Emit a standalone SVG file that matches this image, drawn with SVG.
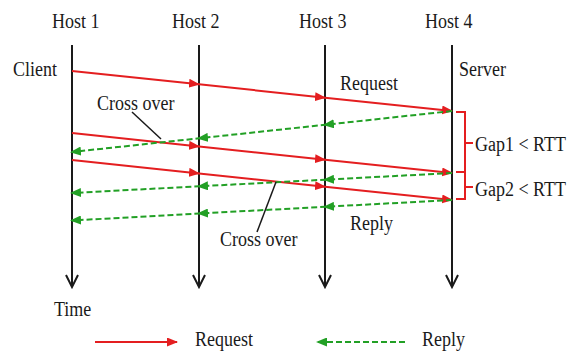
<svg xmlns="http://www.w3.org/2000/svg" width="577" height="361" viewBox="0 0 577 361">
<style>
.t{font-family:"Liberation Serif","Times New Roman",serif;font-size:18px;fill:#1a1a1a}
.life{stroke:#1a1a1a;stroke-width:2;fill:none}
.req{stroke:#e41e20;stroke-width:2;fill:none}
.rep{stroke:#22a025;stroke-width:2;fill:none;stroke-dasharray:6 3}
.lead{stroke:#1a1a1a;stroke-width:1.5;fill:none}
.brace{stroke:#e41e20;stroke-width:2;fill:none}
</style>
<defs>
<marker id="ar" markerUnits="userSpaceOnUse" markerWidth="11" markerHeight="9" refX="10" refY="4.5" orient="auto" viewBox="0 0 11 9">
<path d="M0,0 L11,4.5 L0,9 z" fill="#e41e20"/>
</marker>
<marker id="ag" markerUnits="userSpaceOnUse" markerWidth="11" markerHeight="9" refX="9" refY="4.5" orient="auto" viewBox="0 0 11 9">
<path d="M0,0 L11,4.5 L0,9 z" fill="#22a025"/>
</marker>
</defs>
<rect width="577" height="361" fill="#fff"/>

<g id="host1">
<text class="t" transform="translate(52 28) scale(1 1.2)">Host 1</text>
<path class="life" d="M72,45 V287 M66,275 L72,287 L78,275"/>
</g>
<g id="host2">
<text class="t" transform="translate(172 28) scale(1 1.2)">Host 2</text>
<path class="life" d="M199,45 V287 M193,275 L199,287 L205,275"/>
</g>
<g id="host3">
<text class="t" transform="translate(299 28) scale(1 1.2)">Host 3</text>
<path class="life" d="M325,45 V287 M319,275 L325,287 L331,275"/>
</g>
<g id="host4">
<text class="t" transform="translate(425 28) scale(1 1.2)">Host 4</text>
<path class="life" d="M452,45 V287 M446,275 L452,287 L458,275"/>
</g>

<g id="labels">
<text class="t" transform="translate(13 76) scale(1 1.2)">Client</text>
<text class="t" transform="translate(459 76) scale(1 1.2)">Server</text>
<text class="t" transform="translate(340 90) scale(1 1.2)">Request</text>
<text class="t" transform="translate(350 230) scale(1 1.2)">Reply</text>
<text class="t" transform="translate(97 110) scale(1 1.2)">Cross over</text>
<text class="t" transform="translate(220 246) scale(1 1.2)">Cross over</text>
<text class="t" transform="translate(54 316) scale(1 1.2)">Time</text>
<text class="t" transform="translate(475 151) scale(1 1.2)">Gap1 &lt; RTT</text>
<text class="t" transform="translate(475 196) scale(1 1.2)">Gap2 &lt; RTT</text>
</g>

<g id="connectors">
<path class="req" marker-mid="url(#ar)" marker-end="url(#ar)" d="M72,71 L199,84.3 L325,97.7 L452,111"/>
<path class="req" marker-mid="url(#ar)" marker-end="url(#ar)" d="M72,133 L199,146.4 L325,159.7 L452,173"/>
<path class="req" marker-mid="url(#ar)" marker-end="url(#ar)" d="M72,160 L199,173.4 L325,186.7 L452,200"/>
<path class="rep" marker-mid="url(#ag)" marker-end="url(#ag)" d="M452,111 L325,124.8 L199,138.3 L72,152"/>
<path class="rep" marker-mid="url(#ag)" marker-end="url(#ag)" d="M452,173 L325,179.7 L199,186.3 L72,193"/>
<path class="rep" marker-mid="url(#ag)" marker-end="url(#ag)" d="M452,200 L325,206.8 L199,213.5 L72,220.5"/>
<path class="lead" d="M132,112 L161,139"/>
<path class="lead" d="M257,232 L276,182"/>
<path class="brace" d="M456,112 H465 V199 H456 M456,172 H465 M465,143 H473 M465,187 H473"/>
</g>

<g id="legend">
<path class="req" marker-end="url(#ar)" d="M95,342 H177"/>
<text class="t" transform="translate(195 346) scale(1 1.2)">Request</text>
<path class="rep" marker-end="url(#ag)" d="M405,342 H318"/>
<text class="t" transform="translate(422 346) scale(1 1.2)">Reply</text>
</g>
</svg>
